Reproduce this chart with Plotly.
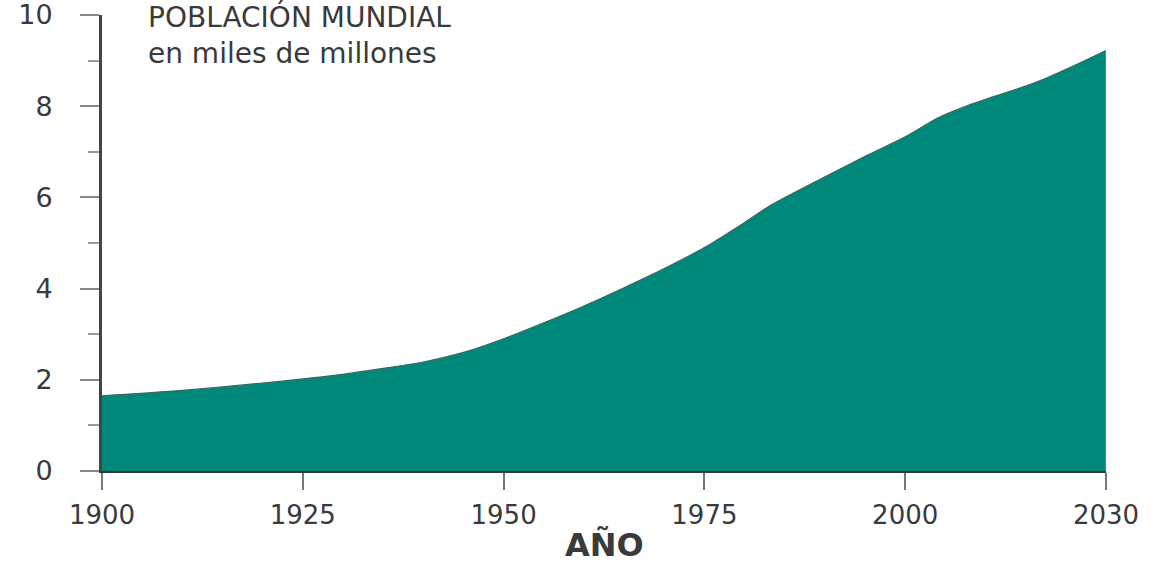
import plotly.graph_objects as go

years = [1900, 1910, 1920, 1925, 1930, 1935, 1940, 1945, 1950, 1955, 1960, 1965, 1970,
         1975, 1980, 1983, 1990, 1995, 2000, 2005, 2010, 2020, 2030]
population = [1.65, 1.77, 1.93, 2.02, 2.12, 2.25, 2.39, 2.6, 2.9, 3.25, 3.62, 4.02, 4.44,
              4.9, 5.45, 5.8, 6.45, 6.9, 7.33, 7.75, 8.05, 8.55, 9.22]

x_ticks = [1900, 1925, 1950, 1975, 2000, 2030]
y_ticks = [0, 2, 4, 6, 8, 10]

title_line1 = "POBLACIÓN MUNDIAL"
title_line2 = "en miles de millones"
x_title = "AÑO"


# The original chart's time axis keeps equal spacing between its labels,
# so the 2000–2030 stretch is drawn in the same width as 25 years.
def axis_pos(year):
    return year if year <= 2000 else 2000 + (year - 2000) * 25.0 / 30.0


x_pos = [axis_pos(y) for y in years]
tick_pos = [axis_pos(y) for y in x_ticks]

FONT = "DejaVu Sans"
TEXT = "#3a3a3a"
FILL = "#00897B"

fig = go.Figure()
fig.add_trace(go.Scatter(
    x=x_pos, y=population, mode="lines", fill="tozeroy",
    fillcolor=FILL, line=dict(color="#3d6660", width=1.2, shape="spline", smoothing=0.8),
    customdata=years, hovertemplate="%{customdata}: %{y}<extra></extra>", showlegend=False,
))

# right edge of the filled area
fig.add_shape(type="line", x0=x_pos[-1], x1=x_pos[-1], y0=0, y1=population[-1],
              xref="x", yref="y", line=dict(color="#6f8a86", width=1.5))

fig.add_annotation(x=0.044, xref="paper", y=9.96, yref="y",
                   text=title_line1, showarrow=False, xanchor="left", yanchor="middle",
                   font=dict(family=FONT, size=28, color=TEXT))
fig.add_annotation(x=0.044, xref="paper", y=9.15, yref="y",
                   text=title_line2, showarrow=False, xanchor="left", yanchor="middle",
                   font=dict(family=FONT, size=28, color=TEXT))
fig.add_annotation(x=0.5, xref="paper", y=-0.162, yref="paper",
                   text="<b>" + x_title + "</b>", showarrow=False, xanchor="center", yanchor="middle",
                   font=dict(family=FONT, size=32, color=TEXT))

fig.update_layout(
    width=1151, height=563,
    margin=dict(l=102, r=45, t=15, b=92, autoexpand=False),
    plot_bgcolor="white", paper_bgcolor="white",
    font=dict(family=FONT, color=TEXT),
)

fig.update_xaxes(
    range=[tick_pos[0], tick_pos[-1]], tickvals=tick_pos, ticktext=[str(v) for v in x_ticks],
    showgrid=False, zeroline=False, automargin=False,
    showline=True, linecolor="#2f3a38", linewidth=2,
    ticks="outside", ticklen=17, tickwidth=2, tickcolor="#777777",
    tickfont=dict(family=FONT, size=26, color=TEXT),
    ticklabelstandoff=3, ticklabeloverflow="allow",
)
fig.update_yaxes(
    range=[0, 10], tickvals=y_ticks,
    showgrid=False, zeroline=False, automargin=False,
    showline=True, linecolor="#444444", linewidth=3,
    ticks="outside", ticklen=19, tickwidth=2, tickcolor="#888888",
    tickfont=dict(family=FONT, size=27, color=TEXT),
    ticklabelstandoff=22, ticklabeloverflow="allow",
    minor=dict(dtick=1, tick0=0, ticks="outside", ticklen=11, tickwidth=2, tickcolor="#999999"),
)

fig.write_html("out.html", config={"displayModeBar": False},
               post_script="document.body.style.margin='0';")
